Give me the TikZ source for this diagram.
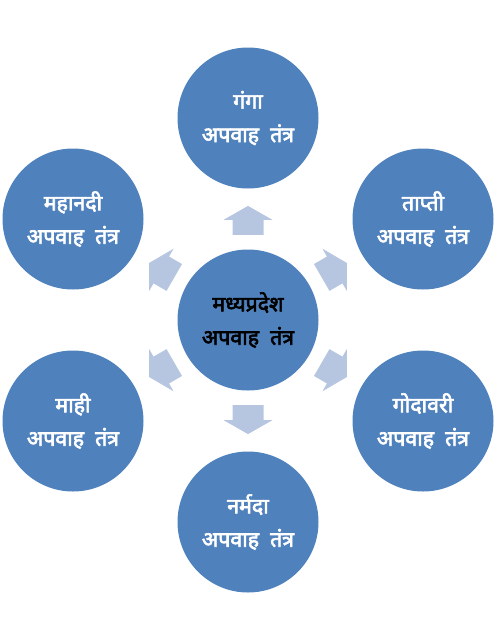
\documentclass[tikz,border=0pt]{standalone}
\usepackage{fontspec}
\newfontfamily\hindi[Script=Devanagari,AutoFakeBold=3]{Noto Sans}
\usetikzlibrary{calc}

\definecolor{discblue}{RGB}{79,129,189}
\definecolor{arrowblue}{RGB}{182,198,225}

\tikzset{every picture/.style={line width=0.75pt}}
\tikzset{
  disc/.style={circle, fill=discblue, draw=none, minimum size=105.75pt, inner sep=0, align=center,
    font=\hindi\bfseries\fontsize{16}{25}\selectfont},
  outerdisc/.style={disc, text=white},
  hubdisc/.style={disc, text=black},
  blockarrow/.style={fill=arrowblue, draw=none}
}

\begin{document}
\begin{tikzpicture}[x=0.75pt,y=0.75pt,yscale=-1,xscale=1]
	\path[use as bounding box] (0,0) rectangle (498,640);

	%Shape: Circle (centre)
	\node [hubdisc] (mp) at (248,320) {मध्यप्रदेश\\अपवाह~~तंत्र};

	%Shape: Circles (around)
	\node [outerdisc] (ganga) at (248,118) {गंगा\\अपवाह~~तंत्र};
	\node [outerdisc] (tapti) at (423,219) {ताप्ती\\अपवाह~~तंत्र};
	\node [outerdisc] (godavari) at (423,421) {गोदावरी\\अपवाह~~तंत्र};
	\node [outerdisc] (narmada) at (248,522) {नर्मदा\\अपवाह~~तंत्र};
	\node [outerdisc] (mahi) at (73,421) {माही\\अपवाह~~तंत्र};
	\node [outerdisc] (mahanadi) at (73,219) {महानदी\\अपवाह~~तंत्र};

	%Shape: Block arrows
	\foreach \n/\a in {ganga/-90,tapti/-30,godavari/30,narmada/90,mahi/150,mahanadi/210}{
		\coordinate (m-\n) at ($(mp)!0.493!(\n)$);
		\draw [blockarrow, shift={(m-\n)}, rotate=\a] (-14.5,-15.5) -- (0.5,-15.5) -- (0.5,-24.5) -- (14.5,0) -- (0.5,24.5) -- (0.5,15.5) -- (-14.5,15.5) -- cycle ;
	}

\end{tikzpicture}
\end{document}
